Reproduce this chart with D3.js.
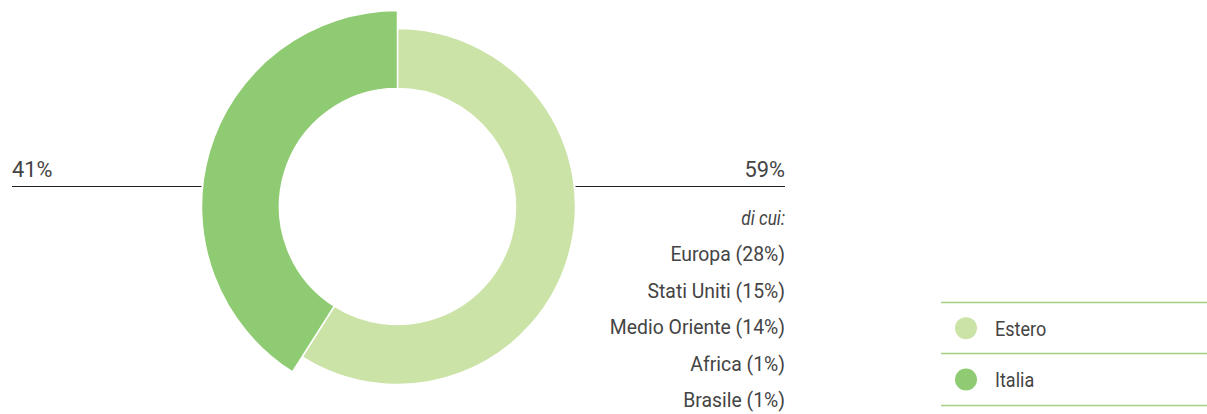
<!DOCTYPE html>
<html>
<head>
<meta charset="utf-8">
<script src="https://cdn.jsdelivr.net/npm/d3@7"></script>
<style>
  body { margin: 0; background: #fff; }
  text { font-family: Roboto, "DejaVu Sans Condensed", sans-serif; fill: #444; }
</style>
</head>
<body>
<div id="chart-area"></div>
<script>
// data
const categories = ["Estero", "Italia"];
const shares = [59, 41];
const colors = ["#cbe3a7", "#8fcb72"];
const subRegions = ["Europa", "Stati Uniti", "Medio Oriente", "Africa", "Brasile"];
const subShares = [28, 15, 14, 1, 1];

const WIDTH = 1207, HEIGHT = 414;
const CX = 397.5, CY = 206.5;
const INNER = 118;
const OUTER = [178, 196]; // Italia sticks out a bit

const svg = d3.select("#chart-area").append("svg")
  .attr("width", WIDTH)
  .attr("height", HEIGHT);

// text helper, sx squeezes the glyphs a little (original face is condensed)
const label = (parent, x, y, sx) => parent.append("text")
  .attr("transform", `translate(${x}, ${y}) scale(${sx}, 1)`);

const g = svg.append("g").attr("transform", `translate(${CX}, ${CY})`);

const pie = d3.pie().sort(null).value(d => d.v);
const slices = pie(categories.map((c, i) => ({ k: c, v: shares[i], i })));

g.selectAll("path")
  .data(slices)
  .enter()
  .append("path")
    .attr("d", d => d3.arc().innerRadius(INNER).outerRadius(OUTER[d.data.i])(d))
    .attr("fill", d => colors[d.data.i])
    .attr("stroke", "#fff")
    .attr("stroke-width", 1.5);

// leader lines + big percentages
const lineY = 186.5;
svg.append("line")
  .attr("x1", 12).attr("x2", CX - OUTER[1])
  .attr("y1", lineY).attr("y2", lineY)
  .attr("stroke", "#222").attr("stroke-width", 1);
svg.append("line")
  .attr("x1", CX + OUTER[0]).attr("x2", 785)
  .attr("y1", lineY).attr("y2", lineY)
  .attr("stroke", "#222").attr("stroke-width", 1);

label(svg, 12, 177, 0.97)
  .attr("font-size", "22.5px")
  .text(`${shares[1]}%`);

label(svg, 785, 177, 0.97)
  .attr("font-size", "22.5px")
  .attr("text-anchor", "end")
  .text(`${shares[0]}%`);

// breakdown of Estero
const lineStep = 36.5;
label(svg, 785, 224.5, 0.86)
  .attr("font-size", "20px")
  .attr("font-style", "italic")
  .attr("text-anchor", "end")
  .text("di cui:");

subRegions.forEach((d, i) => {
  label(svg, 785, 261 + i * lineStep, 0.97)
    .attr("font-size", "20px")
    .attr("text-anchor", "end")
    .text(`${d} (${subShares[i]}%)`);
});

// legend
const legend = svg.append("g").attr("transform", "translate(941, 302.5)");
const rowH = 51.3;
legend.selectAll(".sep")
  .data(d3.range(categories.length + 1))
  .enter()
  .append("line")
    .attr("x1", 0).attr("x2", 270)
    .attr("y1", d => Math.round(d * rowH)).attr("y2", d => Math.round(d * rowH))
    .attr("stroke", "#a3cf85").attr("stroke-width", 1.5);

categories.forEach((c, i) => {
  const row = legend.append("g")
    .attr("transform", `translate(0, ${i * rowH + rowH / 2})`);
  row.append("circle")
    .attr("cx", 25).attr("cy", 0).attr("r", 11)
    .attr("fill", colors[i]);
  label(row, 54, 8, 0.86)
    .attr("font-size", "21px")
    .text(c);
});
</script>
</body>
</html>
